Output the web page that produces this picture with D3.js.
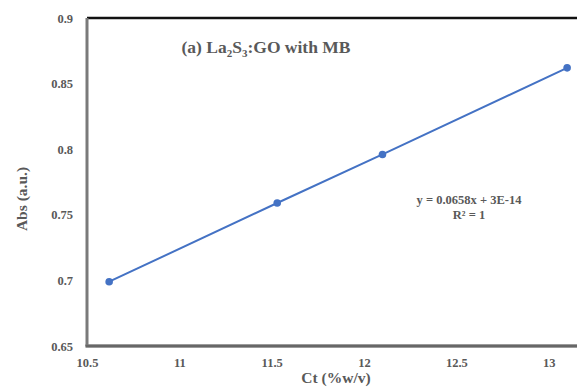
<!DOCTYPE html>
<html>
<head>
<meta charset="utf-8">
<script src="https://cdn.jsdelivr.net/npm/d3@7"></script>
<style>
  html, body { margin: 0; padding: 0; background: #fff; }
  svg text { font-family: "Liberation Serif", "Times New Roman", serif; font-weight: bold; fill: #595959; }
</style>
</head>
<body>
<div id="chart"></div>
<script>
// Calibration points: concentration vs absorbance
const conc = [10.62, 11.53, 12.1, 13.1];
const absorbance = [0.699, 0.759, 0.796, 0.862];
const xTicks = [10.5, 11, 11.5, 12, 12.5, 13];
const yTicks = [0.65, 0.7, 0.75, 0.8, 0.85, 0.9];
const titleMain = "(a) La";
const fitLines = ["y = 0.0658x + 3E-14", "R² = 1"];

const W = 577, H = 390;
const x = d3.scaleLinear().domain([10.5, 13.5]).range([87, 641]);
const y = d3.scaleLinear().domain([0.65, 0.9]).range([346, 18]);

const svg = d3.select("#chart").append("svg")
  .attr("width", W).attr("height", H);

// frame: black top, grey left and bottom
svg.append("line")
  .attr("x1", x(10.5)).attr("x2", W)
  .attr("y1", y(0.9)).attr("y2", y(0.9))
  .attr("stroke", "#111").attr("stroke-width", 2.5);

svg.append("line")
  .attr("x1", x(10.5)).attr("x2", x(10.5))
  .attr("y1", y(0.9)).attr("y2", y(0.65))
  .attr("stroke", "#7a7a7a").attr("stroke-width", 3);

svg.append("line")
  .attr("x1", x(10.5) - 1.5).attr("x2", W)
  .attr("y1", y(0.65)).attr("y2", y(0.65))
  .attr("stroke", "#7a7a7a").attr("stroke-width", 3.5);
svg.append("line")
  .attr("x1", x(10.5) - 1.5).attr("x2", W)
  .attr("y1", y(0.65)).attr("y2", y(0.65))
  .attr("stroke", "#555").attr("stroke-width", 1);

// tick labels
const xAxis = d3.axisBottom(x).tickValues(xTicks).tickSize(0).tickPadding(12)
  .tickFormat(d => String(d));
svg.append("g").attr("transform", `translate(0,${y(0.65)})`).call(xAxis)
  .call(g => g.select(".domain").remove())
  .selectAll("text").attr("font-size", 12.5).attr("fill", "#595959")
  .style("font-family", "Liberation Serif, serif");

const yAxis = d3.axisLeft(y).tickValues(yTicks).tickSize(0).tickPadding(14)
  .tickFormat(d => String(+d.toFixed(2)));
svg.append("g").attr("transform", `translate(${x(10.5)},0)`).call(yAxis)
  .call(g => g.select(".domain").remove())
  .selectAll("text").attr("font-size", 12.5).attr("fill", "#595959")
  .style("font-family", "Liberation Serif, serif");

// data line and markers
const pts = conc.map((c, i) => [c, absorbance[i]]);
svg.append("path").datum(pts)
  .attr("fill", "none").attr("stroke", "#4472C4").attr("stroke-width", 2)
  .attr("d", d3.line().x(d => x(d[0])).y(d => y(d[1])));
svg.selectAll("circle.pt").data(pts).join("circle")
  .attr("class", "pt")
  .attr("cx", d => x(d[0])).attr("cy", d => y(d[1])).attr("r", 3.8)
  .attr("fill", "#4472C4");

// title with subscripts
const t = svg.append("text").attr("x", 266).attr("y", 53)
  .attr("text-anchor", "middle").attr("font-size", 17.5);
t.append("tspan").text(titleMain);
t.append("tspan").attr("font-size", 11).attr("dy", 4).text("2");
t.append("tspan").attr("dy", -4).text("S");
t.append("tspan").attr("font-size", 11).attr("dy", 4).text("3");
t.append("tspan").attr("dy", -4).text(":GO with MB");

// trendline equation
svg.selectAll("text.fit").data(fitLines).join("text")
  .attr("class", "fit")
  .attr("x", 469).attr("y", (d, i) => 204 + i * 15)
  .attr("text-anchor", "middle").attr("font-size", 12.5)
  .text(d => d);

// axis titles
svg.append("text").attr("x", 336).attr("y", 383)
  .attr("text-anchor", "middle").attr("font-size", 15.5)
  .text("Ct (%w/v)");
svg.append("text")
  .attr("transform", "translate(27,199) rotate(-90)")
  .attr("text-anchor", "middle").attr("font-size", 15.5)
  .text("Abs (a.u.)");
</script>
</body>
</html>
